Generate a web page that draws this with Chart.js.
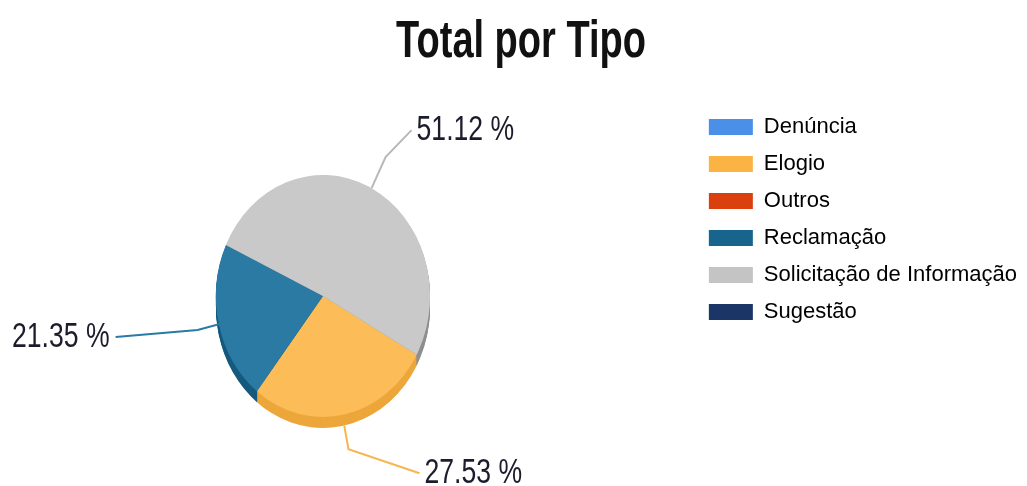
<!DOCTYPE html>
<html><head><meta charset="utf-8">
<script src="https://cdn.jsdelivr.net/npm/chart.js@4"></script>
<style>html,body{margin:0;padding:0;background:#fff;overflow:hidden}#wrap{width:1027px;height:486px;position:relative}</style>
</head><body><div id="wrap"><canvas id="c"></canvas></div>
<script>
const categories = ['Denúncia', 'Elogio', 'Outros', 'Reclamação', 'Solicitação de Informação', 'Sugestão'];
const percentages = [0, 27.53, 0, 21.35, 51.12, 0];
const percentLabels = ['', '27.53 %', '', '21.35 %', '51.12 %', ''];
const chartTitle = 'Total por Tipo';
const sliceColors = ['#4a8fe8', '#fcbd58', '#dc420f', '#2a7aa3', '#c9c9c9', '#1b3766'];
const sideColors = ['#3a72ba', '#eda63a', '#b0350c', '#155a7e', '#8f8f8f', '#14294d'];
const legendColors = ['#4a8fe8', '#fbb443', '#da400d', '#17658c', '#c4c4c4', '#1a3566'];
const leaderColors = ['#4a8fe8', '#f8b550', '#dc420f', '#2a7aa3', '#b8b8b8', '#1b3766'];

const SANS = '"Liberation Sans",Arial,sans-serif';

// leader-line layout per category: radial extension, then final run (dx, dy)
const leaderLayout = {
  'Elogio': {ext: 24, dx: 71, dy: 24},
  'Reclamação': {ext: 22, dx: -82, dy: 7},
  'Solicitação de Informação': {ext: 34, dx: 26, dy: -27}
};

const condensedTitle = {
  id: 'condensedTitle',
  afterDraw(chart, args, o) {
    const ctx = chart.ctx;
    ctx.save();
    ctx.translate((o.padLeft + chart.width) / 2, o.baseline);
    ctx.scale(o.scaleX, 1);
    ctx.font = 'bold ' + o.size + 'px ' + SANS;
    ctx.fillStyle = '#111';
    ctx.textAlign = 'center';
    ctx.textBaseline = 'alphabetic';
    ctx.fillText(chartTitle, 0, 0);
    ctx.restore();
  }
};

const pie3d = {
  id: 'pie3d',
  beforeDatasetsDraw(chart, args, o) {
    const meta = chart.getDatasetMeta(0);
    const a0 = meta.data[0];
    const cx = a0.x, cy = a0.y;
    const ctx = chart.ctx;
    this._sx = o.targetX - cx; this._sy = o.targetY - cy;
    ctx.save();
    ctx.translate(cx + this._sx, cy + this._sy);
    ctx.scale(o.scaleX, 1);
    ctx.translate(-cx, -cy);
    for (let k = o.depth; k >= 1; k--) {
      meta.data.forEach((arc, i) => {
        if (!(arc.endAngle - arc.startAngle > 0)) return;
        ctx.beginPath();
        ctx.moveTo(arc.x, arc.y + k);
        ctx.arc(arc.x, arc.y + k, arc.outerRadius, arc.startAngle, arc.endAngle);
        ctx.closePath();
        ctx.fillStyle = sideColors[i];
        ctx.fill();
      });
    }
  },
  afterDatasetsDraw(chart, args, o) {
    const ctx = chart.ctx;
    ctx.restore();
    const meta = chart.getDatasetMeta(0);
    meta.data.forEach((arc, i) => {
      const txt = percentLabels[i];
      const lay = leaderLayout[categories[i]];
      if (!txt || !lay) return;
      const mid = (arc.startAngle + arc.endAngle) / 2;
      const r = arc.outerRadius;
      const cx = arc.x + this._sx, cy = arc.y + this._sy;
      const px = cx + o.scaleX * r * Math.cos(mid);
      const py = cy + r * Math.sin(mid) + (Math.sin(mid) > 0.5 ? o.depth : 0);
      let dxu = o.scaleX * Math.cos(mid), dyu = Math.sin(mid);
      const n = Math.hypot(dxu, dyu); dxu /= n; dyu /= n;
      const ex = px + lay.ext * dxu, ey = py + lay.ext * dyu;
      const fx = ex + lay.dx, fy = ey + lay.dy;
      ctx.save();
      ctx.strokeStyle = leaderColors[i];
      ctx.lineWidth = 2;
      ctx.beginPath();
      ctx.moveTo(px, py); ctx.lineTo(ex, ey); ctx.lineTo(fx, fy);
      ctx.stroke();
      const right = lay.dx >= 0;
      ctx.translate(fx + (right ? 5 : -6), fy);
      ctx.scale(o.labelScaleX, 1);
      ctx.fillStyle = '#1c1c2c';
      ctx.font = o.labelSize + 'px ' + SANS;
      ctx.textBaseline = 'middle';
      ctx.textAlign = right ? 'left' : 'right';
      ctx.fillText(txt, 0, 0);
      ctx.restore();
    });
  }
};

new Chart(document.getElementById('c'), {
  type: 'pie',
  data: {
    labels: categories,
    datasets: [{
      data: percentages,
      backgroundColor: sliceColors,
      borderWidth: 0,
      radius: 121,
      clip: false
    }]
  },
  options: {
    responsive: true,
    maintainAspectRatio: false,
    animation: false,
    events: [],
    rotation: 119,
    layout: {padding: {left: 15, right: 0, top: 101, bottom: 0}},
    plugins: {
      title: {display: false},
      legend: {
        position: 'right',
        align: 'start',
        fullSize: false,
        labels: {
          boxWidth: 44,
          boxHeight: 16,
          padding: 15,
          color: '#222',
          font: {family: SANS, size: 22},
          generateLabels: () => categories.map((c, i) => ({
            text: c, fillStyle: legendColors[i], strokeStyle: legendColors[i],
            lineWidth: 0, hidden: false, index: i
          }))
        }
      },
      tooltip: {enabled: false},
      condensedTitle: {padLeft: 15, baseline: 57, size: 51, scaleX: 0.745},
      pie3d: {targetX: 323, targetY: 296, scaleX: 0.885, depth: 11, labelSize: 35, labelScaleX: 0.76}
    }
  },
  plugins: [pie3d, condensedTitle]
});
</script>
</body></html>
